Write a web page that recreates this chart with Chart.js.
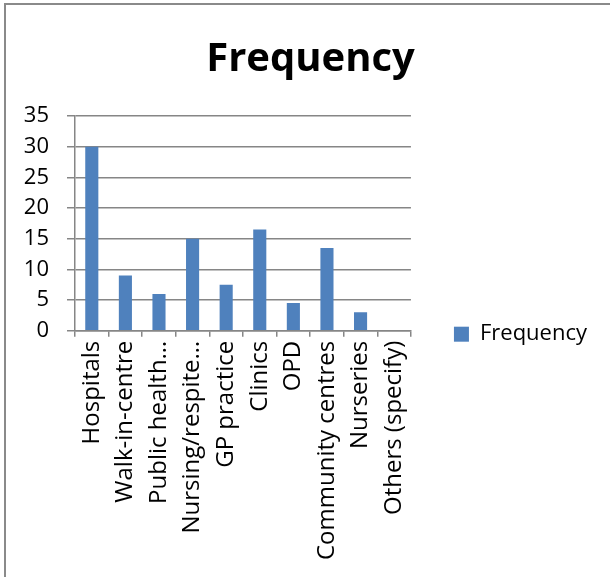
<!DOCTYPE html>
<html>
<head>
<meta charset="utf-8">
<script src="https://cdn.jsdelivr.net/npm/chart.js@4"></script>
<style>
  html, body { margin: 0; padding: 0; background: #fff; }
  #frame {
    position: absolute; left: 4px; top: 3px; width: 606px; height: 574px;
    border-left: 2px solid #8a8a8a; border-top: 2px solid #8a8a8a;
    box-sizing: border-box;
  }
  #wrap { position: absolute; left: 0; top: 0; width: 610px; height: 577px; }
</style>
</head>
<body>
<div id="frame"></div>
<div id="wrap"><canvas id="grafico" width="610" height="577"></canvas></div>
<script>
const categorias = ["Hospitals", "Walk-in-centre", "Public health…", "Nursing/respite…", "GP practice",
  "Clinics", "OPD", "Community centres", "Nurseries", "Others (specify)"];
const frequencia = [30, 9, 6, 15, 7.5, 16.5, 4.5, 13.5, 3, 0];
const ticksY = [0, 5, 10, 15, 20, 25, 30, 35];

function desenhar() {
    const ctx = document.getElementById("grafico").getContext("2d");
    const fonte = "'Open Sans', 'Noto Sans', sans-serif";

    new Chart(ctx, {
        type: "bar",
        data: {
            labels: categorias,
            datasets: [
                {
                    label: "Frequency",
                    data: frequencia,
                    backgroundColor: "#4f81bd",
                    borderWidth: 0,
                    barPercentage: 0.39,
                    categoryPercentage: 1,
                },
            ],
        },
        options: {
            responsive: false,
            animation: false,
            layout: { padding: { left: 24, right: 13, top: 36, bottom: 13 } },
            plugins: {
                legend: {
                    display: true,
                    position: "right",
                    maxWidth: 220,
                    // titulo vazio so para empurrar a legenda para baixo
                    title: { display: true, text: "", padding: { top: 0, bottom: 54 }, font: { size: 12 } },
                    labels: {
                        boxWidth: 15,
                        boxHeight: 15,
                        padding: 43,
                        color: "#000",
                        font: { family: fonte, size: 22 },
                    },
                },
                title: {
                    display: true,
                    text: "Frequency",
                    color: "#000",
                    font: { family: fonte, size: 40, weight: "bold" },
                    padding: { top: 0, bottom: 32 },
                },
                tooltip: { enabled: false },
            },
            scales: {
                x: {
                    grid: {
                        offset: true,
                        drawOnChartArea: false,
                        drawTicks: true,
                        tickLength: 6,
                        color: "#868686",
                        lineWidth: 1.5,
                    },
                    border: { color: "#868686", width: 1.5 },
                    ticks: {
                        color: "#000",
                        font: { family: fonte, size: 24 },
                        maxRotation: 90,
                        minRotation: 90,
                        autoSkip: false,
                        padding: 4,
                    },
                },
                y: {
                    min: 0,
                    max: 35,
                    afterBuildTicks: function (axis) {
                        axis.ticks = ticksY.map(function (v) { return { value: v }; });
                    },
                    afterFit: function (axis) {
                        axis.width = 51;
                    },
                    grid: {
                        color: "#868686",
                        lineWidth: 1.5,
                        tickLength: 8,
                    },
                    border: { color: "#868686", width: 1.5 },
                    ticks: {
                        color: "#000",
                        font: { family: fonte, size: 22 },
                        padding: 18,
                    },
                },
            },
        },
    });
}

document.addEventListener("DOMContentLoaded", function () {
    Promise.all([
        document.fonts.load("22px 'Open Sans'"),
        document.fonts.load("bold 40px 'Open Sans'"),
    ]).then(desenhar, desenhar);
});
</script>
</body>
</html>
